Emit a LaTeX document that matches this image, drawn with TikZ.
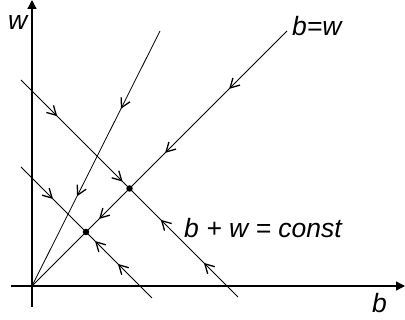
\documentclass[tikz,border=0pt]{standalone}
\usepackage{fontspec}
\setmainfont{Liberation Sans}
\usetikzlibrary{arrows.meta,decorations.markings}
\tikzset{
  axisline/.style={line width=1.3pt,-{Triangle[length=9pt,width=9pt]}},
  thinline/.style={line width=0.8pt},
  barb/.style={line width=1.3pt},
  dotpt/.style={circle,fill=black,inner sep=0pt,minimum size=6.5pt},
  lbl/.style={inner sep=0pt,anchor=base west,font=\fontsize{26.5}{30}\selectfont\itshape},
  fwd/.style={postaction={decorate,decoration={markings,mark=at position #1 with {\arrow[barb]{Straight Barb[length=9pt,width=10pt]}}}}},
  bwd/.style={postaction={decorate,decoration={markings,mark=at position #1 with {\arrowreversed[barb]{Straight Barb[length=9pt,width=10pt]}}}}}
}
\begin{document}
\begin{tikzpicture}[x=1pt,y=-1pt]
\useasboundingbox (0,0) rectangle (405,320);
% coordinates
\coordinate (O) at (32,286);
\coordinate (yb) at (32,307);
\coordinate (yt) at (32,0);
\coordinate (xl) at (11,286);
\coordinate (xr) at (405,286);
\coordinate (E) at (287,31);
\coordinate (S) at (160,31);
\coordinate (A1) at (21,80);
\coordinate (A2) at (238,297);
\coordinate (B1) at (21,167);
\coordinate (B2) at (152,298);
% axes
\draw[axisline] (yb) -- (yt);
\draw[axisline] (xl) -- (xr);
% lines
\draw[thinline,fwd=0.227,fwd=0.478,fwd=0.737] (E) -- (O);
\draw[thinline,fwd=0.305,fwd=0.648] (S) -- (O);
\draw[thinline,fwd=0.167,fwd=0.468,bwd=0.644,bwd=0.843] (A1) -- (A2);
\draw[thinline,fwd=0.244,bwd=0.565,bwd=0.74] (B1) -- (B2);
% dots
\node[dotpt] (P1) at (129.5,188.5) {};
\node[dotpt] (P2) at (86,232) {};
% labels
\node[lbl] (lw) at (8,30) {w};
\node[lbl] (lbw) at (292,36) {b=w};
\node[lbl] (lconst) at (184,238) {b + w = const};
\node[lbl] (lb) at (372,313) {b};
\end{tikzpicture}
\end{document}
